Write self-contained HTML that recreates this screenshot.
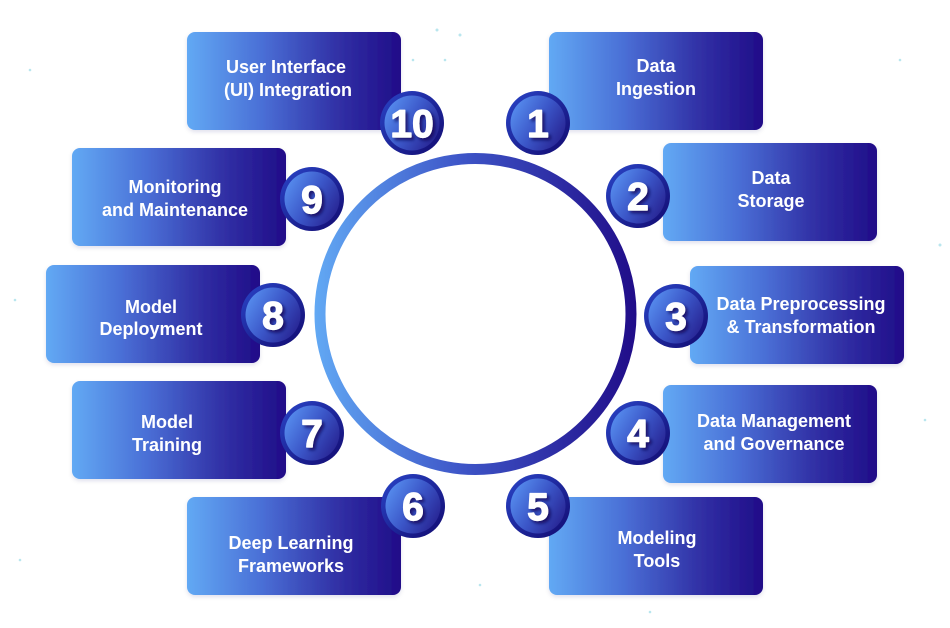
<!DOCTYPE html>
<html>
<head>
<meta charset="utf-8">
<style>
  html, body { margin:0; padding:0; background:#ffffff; }
  body { width:950px; height:628px; overflow:hidden; }
  svg { display:block; }
  .lbl { font-family:"Liberation Sans", Arial, sans-serif; font-weight:bold; font-size:18px; fill:#ffffff; text-anchor:middle; }
  .num { font-family:"Liberation Sans", Arial, sans-serif; font-weight:bold; font-size:39px; fill:#ffffff; stroke:#ffffff; stroke-width:1.2; stroke-linejoin:round; text-anchor:middle; }
</style>
</head>
<body>
<svg width="950" height="628" viewBox="0 0 950 628" xmlns="http://www.w3.org/2000/svg">
  <defs>
    <linearGradient id="boxg" x1="0" y1="0" x2="1" y2="0">
      <stop offset="0" stop-color="#62a9f4"/>
      <stop offset="0.35" stop-color="#4a6fd6"/>
      <stop offset="0.7" stop-color="#3131a6"/>
      <stop offset="1" stop-color="#200c88"/>
    </linearGradient>
    <linearGradient id="ringg" gradientUnits="userSpaceOnUse" x1="314" y1="0" x2="637" y2="0">
      <stop offset="0" stop-color="#62a9f4"/>
      <stop offset="0.45" stop-color="#3e56c8"/>
      <stop offset="1" stop-color="#200c88"/>
    </linearGradient>
    <linearGradient id="outerg" x1="0" y1="0" x2="1" y2="1">
      <stop offset="0" stop-color="#2a45c8"/>
      <stop offset="1" stop-color="#120a70"/>
    </linearGradient>
    <linearGradient id="innerg" x1="0" y1="0.2" x2="1" y2="0.8">
      <stop offset="0" stop-color="#5890f0"/>
      <stop offset="0.5" stop-color="#3b56c8"/>
      <stop offset="1" stop-color="#26208f"/>
    </linearGradient>
    <filter id="bsh" x="-10%" y="-10%" width="120%" height="130%">
      <feDropShadow dx="0" dy="2" stdDeviation="2" flood-color="#1a1a60" flood-opacity="0.12"/>
    </filter>
    <filter id="tsh" x="-30%" y="-30%" width="160%" height="160%">
      <feDropShadow dx="2.5" dy="2.5" stdDeviation="1.6" flood-color="#0c0650" flood-opacity="0.75"/>
    </filter>
    <g id="badge">
      <circle cx="0" cy="0" r="32" fill="url(#outerg)"/>
      <circle cx="0" cy="0" r="27.5" fill="url(#innerg)"/>
    </g>
  </defs>

  <!-- faint background dots -->
  <g fill="#b9e6ee">
    <circle cx="437" cy="30" r="1.5"/>
    <circle cx="460" cy="35" r="1.5"/>
    <circle cx="413" cy="60" r="1.3"/>
    <circle cx="445" cy="60" r="1.3"/>
    <circle cx="30" cy="70" r="1.3"/>
    <circle cx="15" cy="300" r="1.3"/>
    <circle cx="940" cy="245" r="1.5"/>
    <circle cx="925" cy="420" r="1.3"/>
    <circle cx="480" cy="585" r="1.3"/>
    <circle cx="20" cy="560" r="1.3"/>
    <circle cx="900" cy="60" r="1.3"/>
    <circle cx="650" cy="612" r="1.3"/>
  </g>

  <!-- big ring -->
  <circle cx="475.5" cy="314" r="155.5" fill="none" stroke="url(#ringg)" stroke-width="11"/>

  <!-- boxes -->
  <g fill="url(#boxg)" filter="url(#bsh)">
    <rect x="187" y="32" width="214" height="98" rx="8"/>
    <rect x="549" y="32" width="214" height="98" rx="8"/>
    <rect x="663" y="143" width="214" height="98" rx="8"/>
    <rect x="690" y="266" width="214" height="98" rx="8"/>
    <rect x="663" y="385" width="214" height="98" rx="8"/>
    <rect x="549" y="497" width="214" height="98" rx="8"/>
    <rect x="187" y="497" width="214" height="98" rx="8"/>
    <rect x="72" y="381" width="214" height="98" rx="8"/>
    <rect x="46" y="265" width="214" height="98" rx="8"/>
    <rect x="72" y="148" width="214" height="98" rx="8"/>
  </g>

  <!-- labels -->
  <text class="lbl" x="286" y="73">User Interface</text>
  <text class="lbl" x="288" y="96">(UI) Integration</text>

  <text class="lbl" x="656" y="72">Data</text>
  <text class="lbl" x="656" y="95">Ingestion</text>

  <text class="lbl" x="771" y="184">Data</text>
  <text class="lbl" x="771" y="207">Storage</text>

  <text class="lbl" x="801" y="310">Data Preprocessing</text>
  <text class="lbl" x="801" y="333">&amp; Transformation</text>

  <text class="lbl" x="774" y="427">Data Management</text>
  <text class="lbl" x="774" y="450">and Governance</text>

  <text class="lbl" x="657" y="544">Modeling</text>
  <text class="lbl" x="657" y="567">Tools</text>

  <text class="lbl" x="291" y="549">Deep Learning</text>
  <text class="lbl" x="291" y="572">Frameworks</text>

  <text class="lbl" x="167" y="428">Model</text>
  <text class="lbl" x="167" y="451">Training</text>

  <text class="lbl" x="151" y="313">Model</text>
  <text class="lbl" x="151" y="335">Deployment</text>

  <text class="lbl" x="175" y="193">Monitoring</text>
  <text class="lbl" x="175" y="216">and Maintenance</text>

  <!-- number badges -->
  <g transform="translate(412,123)"><use href="#badge"/><text class="num" x="0" y="14" filter="url(#tsh)">10</text></g>
  <g transform="translate(538,123)"><use href="#badge"/><text class="num" x="0" y="14" filter="url(#tsh)">1</text></g>
  <g transform="translate(638,196)"><use href="#badge"/><text class="num" x="0" y="14" filter="url(#tsh)">2</text></g>
  <g transform="translate(676,316)"><use href="#badge"/><text class="num" x="0" y="14" filter="url(#tsh)">3</text></g>
  <g transform="translate(638,433)"><use href="#badge"/><text class="num" x="0" y="14" filter="url(#tsh)">4</text></g>
  <g transform="translate(538,506)"><use href="#badge"/><text class="num" x="0" y="14" filter="url(#tsh)">5</text></g>
  <g transform="translate(413,506)"><use href="#badge"/><text class="num" x="0" y="14" filter="url(#tsh)">6</text></g>
  <g transform="translate(312,433)"><use href="#badge"/><text class="num" x="0" y="14" filter="url(#tsh)">7</text></g>
  <g transform="translate(273,315)"><use href="#badge"/><text class="num" x="0" y="14" filter="url(#tsh)">8</text></g>
  <g transform="translate(312,199)"><use href="#badge"/><text class="num" x="0" y="14" filter="url(#tsh)">9</text></g>
</svg>
</body>
</html>
